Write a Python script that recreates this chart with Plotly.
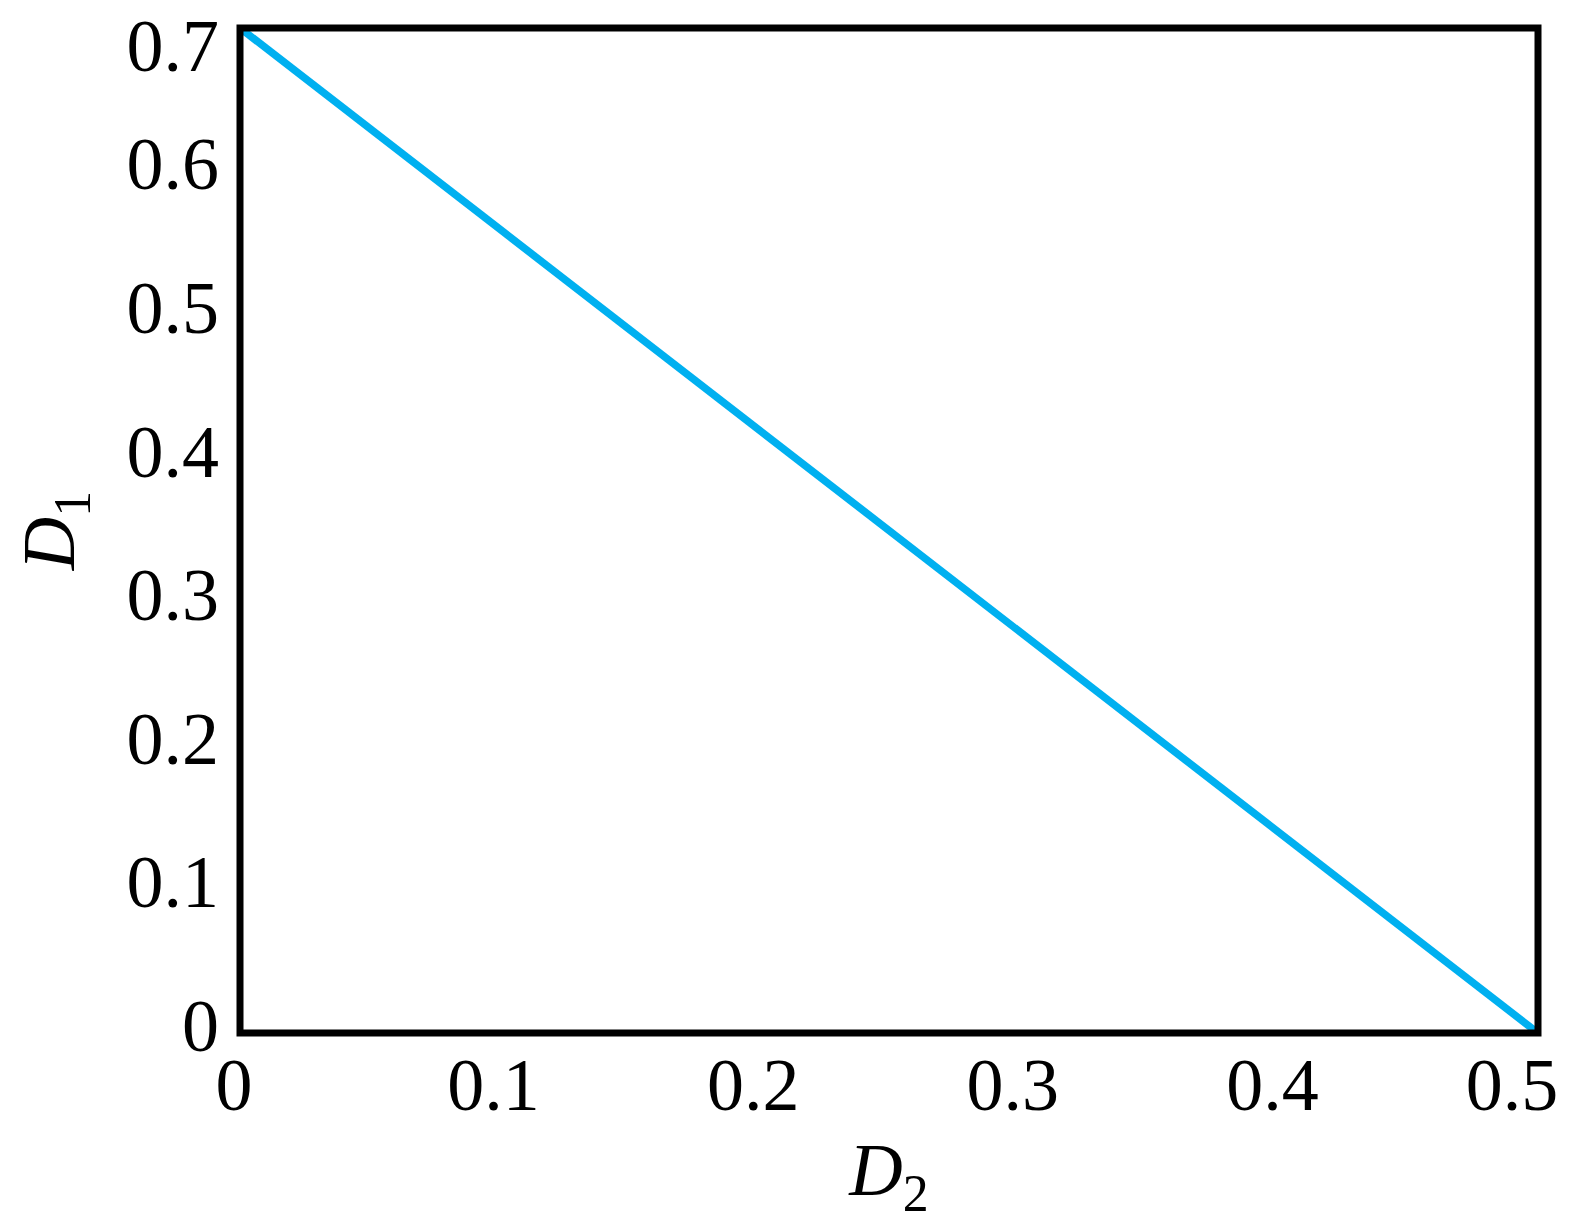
import plotly.graph_objects as go

# Data: boundary line D1 vs D2
d2 = [0.0, 0.5]
d1 = [0.7, 0.0]

x_ticks = [0, 0.1, 0.2, 0.3, 0.4, 0.5]
x_ticklabels = ["0", "0.1", "0.2", "0.3", "0.4", "0.5"]
y_ticks = [0, 0.1, 0.2, 0.3, 0.4, 0.5, 0.6, 0.7]
y_ticklabels = ["0", "0.1", "0.2", "0.3", "0.4", "0.5", "0.6", "0.7"]

font_family = "Liberation Serif, Times New Roman, serif"
tfont = dict(family=font_family, size=74, color="black")

fig = go.Figure()
fig.add_trace(go.Scatter(
    x=d2, y=d1, mode="lines",
    line=dict(color="#00B0F0", width=7.5),
    showlegend=False, hoverinfo="skip", cliponaxis=False,
))
# empty helper trace so the overlay axes (end labels) are drawn
fig.add_trace(go.Scatter(x=[], y=[], xaxis="x2", yaxis="y2",
                         showlegend=False, hoverinfo="skip"))

# frame around plot area
fig.add_shape(type="rect", xref="paper", yref="paper", x0=0, x1=1, y0=0, y1=1,
              line=dict(color="black", width=7), layer="above")

common = dict(showgrid=False, zeroline=False, ticks="", showline=False,
              automargin=False, ticklabeloverflow="allow", tickfont=tfont)

fig.update_layout(
    width=1570, height=1220,
    margin=dict(l=232, r=40, t=20, b=195),
    paper_bgcolor="white", plot_bgcolor="white",
    font=tfont,
    xaxis=dict(
        range=[0, 0.5], tickvals=x_ticks[:-1], ticktext=x_ticklabels[:-1],
        ticklabelstandoff=2, ticklabelshift=-6,
        title=dict(text="<i>D</i><sub>2</sub>", standoff=18, font=tfont),
        **common,
    ),
    xaxis2=dict(
        range=[0, 0.5], tickvals=x_ticks[-1:], ticktext=x_ticklabels[-1:],
        overlaying="x", anchor="y2", side="bottom",
        ticklabelstandoff=2, ticklabelshift=-26,
        **common,
    ),
    yaxis=dict(
        range=[0, 0.7], tickvals=y_ticks[:-1], ticktext=y_ticklabels[:-1],
        ticklabelstandoff=20, ticklabelshift=-8,
        title=dict(text="<i>D</i><sub>1</sub>", standoff=50, font=tfont),
        **common,
    ),
    yaxis2=dict(
        range=[0, 0.7], tickvals=y_ticks[-1:], ticktext=y_ticklabels[-1:],
        overlaying="y", anchor="x2", side="left",
        ticklabelstandoff=20, ticklabelshift=17,
        **common,
    ),
)

fig.write_html("out.html")
